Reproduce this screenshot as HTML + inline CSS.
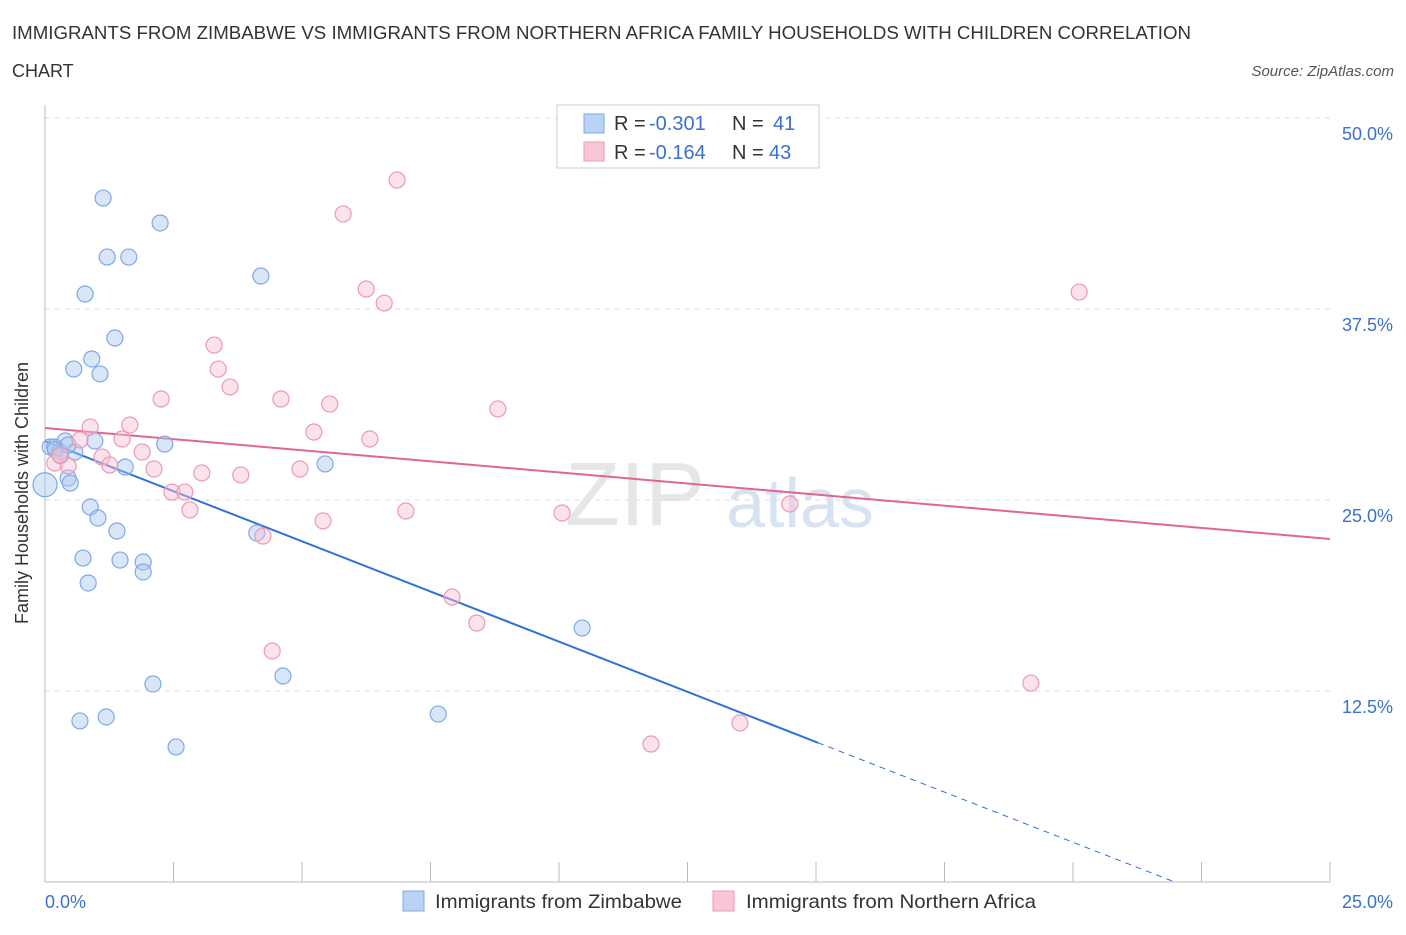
<!DOCTYPE html>
<html><head><meta charset="utf-8"><style>
body{margin:0;background:#fff;font-family:"Liberation Sans",sans-serif;}
svg text{font-family:"Liberation Sans",sans-serif;}
</style></head><body>
<svg id="chart" width="1406" height="930">
<text x="12" y="39" font-size="18" fill="#333" textLength="1179" lengthAdjust="spacingAndGlyphs">IMMIGRANTS FROM ZIMBABWE VS IMMIGRANTS FROM NORTHERN AFRICA FAMILY HOUSEHOLDS WITH CHILDREN CORRELATION</text>
<text x="12" y="77" font-size="18" fill="#333">CHART</text>
<text x="1394" y="76" font-size="15" fill="#555" font-style="italic" text-anchor="end">Source: ZipAtlas.com</text>
<text x="635" y="525" font-size="90" fill="#e6e6e6" text-anchor="middle" font-family="Liberation Serif">ZIP</text>
<text x="800" y="527" font-size="70" fill="#d7e3f3" text-anchor="middle">atlas</text>
<g id="grid"></g><g id="axes"></g><g id="lines"></g><g id="pts"></g>
<g>
<rect x="557" y="105" width="262" height="63" fill="#fff" stroke="#ccc"/>
<rect x="584" y="114" width="20" height="19" fill="#b9d3f5" stroke="#7ea9e6"/>
<rect x="584" y="142" width="20" height="19" fill="#f9c6d5" stroke="#eb9ab2"/>
<text x="614" y="130" font-size="20" fill="#333">R =</text>
<text x="649" y="130" font-size="20" fill="#3a70cf">-0.301</text>
<text x="732" y="130" font-size="20" fill="#333">N =</text>
<text x="773" y="130" font-size="20" fill="#3a70cf">41</text>
<text x="614" y="159" font-size="20" fill="#333">R =</text>
<text x="649" y="159" font-size="20" fill="#3a70cf">-0.164</text>
<text x="732" y="159" font-size="20" fill="#333">N =</text>
<text x="769" y="159" font-size="20" fill="#3a70cf">43</text>
</g>
<g>
<rect x="403" y="891" width="21" height="20" fill="#b9d3f5" stroke="#7ea9e6"/>
<text x="435" y="908" font-size="19.5" fill="#333" textLength="247" lengthAdjust="spacingAndGlyphs">Immigrants from Zimbabwe</text>
<rect x="713" y="891" width="21" height="20" fill="#f9c6d5" stroke="#eb9ab2"/>
<text x="746" y="908" font-size="19.5" fill="#333" textLength="290" lengthAdjust="spacingAndGlyphs">Immigrants from Northern Africa</text>
</g>
<text x="28" y="493" font-size="18" fill="#333" text-anchor="middle" transform="rotate(-90 28 493)">Family Households with Children</text>
</svg>
<script>
const blueX=[0,0.1,0.19,0.29,0.39,0.45,0.49,0.58,0.97,1.56,2.33,1.13,2.24,1.21,1.63,0.78,4.2,1.36,0.91,0.56,1.07,0.88,1.03,1.4,0.74,1.46,1.91,1.91,0.84,5.45,4.12,10.45,2.1,4.63,0.68,1.19,7.65,2.55,0.2,0.3,0.45];
const blueY=[26.0,28.47,28.47,28.14,28.86,26.44,26.11,28.14,28.86,27.16,28.66,44.76,43.13,40.9,40.9,38.48,39.66,35.6,34.23,33.57,33.25,24.54,23.82,22.97,21.2,21.07,20.94,20.29,19.57,27.36,22.84,16.62,12.96,13.48,10.54,10.8,10.99,8.84,28.3,27.9,28.6];
const pinkX=[10.12,6.85,5.8,6.25,6.6,20.12,3.29,3.37,3.6,2.26,4.59,5.54,8.81,0.88,1.65,5.23,1.5,6.32,1.89,1.11,1.26,0.19,0.45,2.12,3.05,3.81,4.96,2.47,2.72,2.82,5.41,7.02,10.06,14.49,4.24,7.92,8.4,4.42,19.18,11.79,13.52,0.68,0.29];
const pinkY=[49.28,45.94,43.72,38.81,37.89,38.61,35.14,33.57,32.4,31.61,31.61,31.28,30.96,29.78,29.91,29.45,28.99,28.99,28.14,27.81,27.29,27.42,27.23,27.03,26.77,26.64,27.03,25.52,25.52,24.35,23.63,24.28,24.15,24.74,22.64,18.65,16.95,15.12,13.02,9.03,10.41,28.93,27.94];
const yTicks=[12.5,25,37.5,50];
const yTickLabels=["12.5%","25.0%","37.5%","50.0%"];
const blueLine=[28.86,-1.313];
const pinkLine=[29.71,-0.2904];
const X=v=>45+v*51.4, Y=v=>882-v*15.28;
const NS="http://www.w3.org/2000/svg";
function mk(t,a,p){const e=document.createElementNS(NS,t);for(const k in a)e.setAttribute(k,a[k]);document.getElementById(p).appendChild(e);return e;}
yTicks.forEach((t,i)=>{
 const g=mk('line',{x1:45,x2:1330,y1:Y(t),y2:Y(t),stroke:'#ddd','stroke-dasharray':'5,5'},'grid');
 
 
 const l=mk('text',{x:1393,y:Y(t)+22,'font-size':18,fill:'#3a70cf','text-anchor':'end'},'grid');l.textContent=yTickLabels[i];
 
 
});
mk('line',{x1:45,x2:45,y1:105,y2:882,stroke:'#bbb'},'axes');
mk('line',{x1:45,x2:1330,y1:882,y2:882,stroke:'#bbb'},'axes');
for(let i=0;i<=10;i++){mk('line',{x1:X(i*2.5),x2:X(i*2.5),y1:862,y2:882,stroke:'#bbb'},'axes');}
let t=mk('text',{x:45,y:908,'font-size':18,fill:'#3a70cf'},'axes');t.textContent='0.0%';


t=mk('text',{x:1393,y:908,'font-size':18,fill:'#3a70cf','text-anchor':'end'},'axes');t.textContent='25.0%';


blueX.forEach((x,i)=>{const c=mk('circle',{cx:X(x),cy:Y(blueY[i]),r:i==0?12:8,fill:'rgba(170,200,240,0.45)',stroke:'#7ea9e6','stroke-width':1.2},'pts');
 
 });
pinkX.forEach((x,i)=>{const c=mk('circle',{cx:X(x),cy:Y(pinkY[i]),r:8,fill:'rgba(248,190,208,0.45)',stroke:'#eb9ab2','stroke-width':1.2},'pts');
 
 });
const bEnd=15.04, bZero=-blueLine[0]/blueLine[1];
let ln=mk('line',{x1:X(0),y1:Y(blueLine[0]),x2:X(bEnd),y2:Y(blueLine[0]+blueLine[1]*bEnd),stroke:'#2f72d8','stroke-width':2},'lines');


ln=mk('line',{x1:X(bEnd),y1:Y(blueLine[0]+blueLine[1]*bEnd),x2:X(bZero),y2:Y(0),stroke:'#2f72d8','stroke-width':1,'stroke-dasharray':'6,5'},'lines');


ln=mk('line',{x1:X(0),y1:Y(pinkLine[0]),x2:X(25),y2:Y(pinkLine[0]+pinkLine[1]*25),stroke:'#e06690','stroke-width':2},'lines');


</script>
</body></html>
